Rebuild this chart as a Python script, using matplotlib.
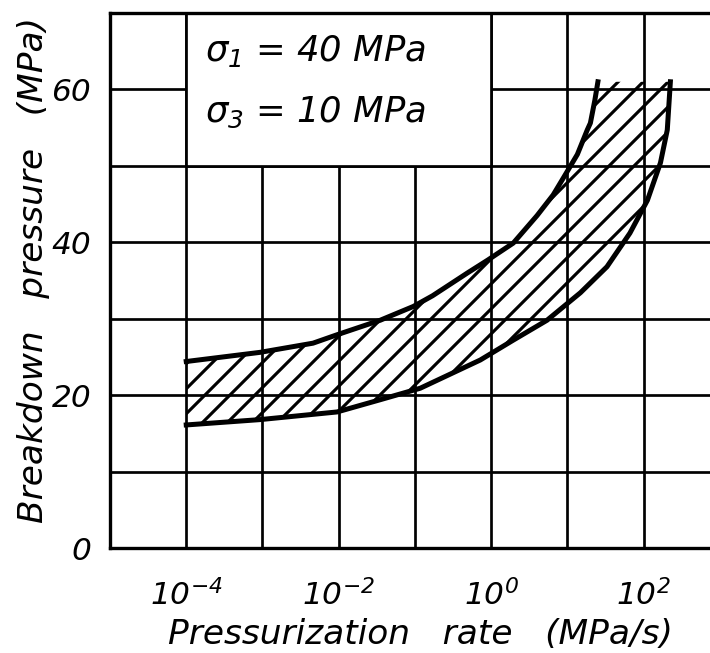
import matplotlib
matplotlib.use("Agg")
import matplotlib.pyplot as plt
from matplotlib.patches import Rectangle
from matplotlib.ticker import FixedLocator, FixedFormatter

# ---------------- data ----------------
upper_rate = [1e-4, 9.3e-4, 4.6e-3, 9.5e-3, 0.035, 0.095, 0.17, 0.49, 0.91, 1.95,
              4.0, 6.5, 8.7, 13.5, 18.2, 20.0, 22.9, 25.1]
upper_pressure = [24.4, 25.6, 26.8, 27.9, 29.8, 31.6, 33.0, 36.0, 37.7, 39.9,
                  43.5, 46.2, 48.3, 51.5, 54.7, 55.6, 58.6, 61.0]

lower_rate = [1e-4, 9.3e-4, 9.5e-3, 0.035, 0.117, 0.72, 1.95, 5.4, 14.8, 33.0,
              66.0, 112.0, 166.0, 204.0, 224.0]
lower_pressure = [16.1, 16.8, 17.8, 19.4, 20.9, 24.6, 27.2, 29.8, 33.4, 36.8,
                  41.2, 45.5, 50.4, 54.7, 61.0]

x_grid = [1e-5, 1e-4, 1e-3, 1e-2, 1e-1, 1e0, 1e1, 1e2]
x_labels = ["", r"$10^{-4}$", "", r"$10^{-2}$", "", r"$10^{0}$", "", r"$10^{2}$"]
y_grid = [0, 10, 20, 30, 40, 50, 60, 70]
y_labels = ["0", "", "20", "", "40", "", "60", ""]

box_lines = [r"$\sigma_1$ = 40 MPa", r"$\sigma_3$ = 10 MPa"]
x_title = "Pressurization   rate   (MPa/s)"
y_title = "Breakdown   pressure   (MPa)"

# ---------------- style ----------------
plt.rcParams["font.family"] = ["DejaVu Sans"]
plt.rcParams["font.style"] = "italic"
plt.rcParams["mathtext.fontset"] = "custom"
plt.rcParams["mathtext.rm"] = "DejaVu Sans:italic"
plt.rcParams["mathtext.it"] = "DejaVu Sans:italic"
plt.rcParams["mathtext.sf"] = "DejaVu Sans:italic"
plt.rcParams["hatch.linewidth"] = 1.5

DPI = 150
fig = plt.figure(figsize=(710 / DPI, 653 / DPI), dpi=DPI)
ax = fig.add_axes([110 / 710, 1 - 548 / 653, 600 / 710, (548 - 13) / 653])

ax.set_xscale("log")
ax.set_xlim(1e-5, 10 ** 2.87)
ax.set_ylim(0, 70.0)

ax.xaxis.set_major_locator(FixedLocator(x_grid))
ax.xaxis.set_major_formatter(FixedFormatter(x_labels))
ax.xaxis.set_minor_locator(FixedLocator([]))
ax.yaxis.set_major_locator(FixedLocator(y_grid))
ax.yaxis.set_major_formatter(FixedFormatter(y_labels))

ax.tick_params(axis="both", length=0, labelsize=15)
ax.tick_params(axis="y", pad=9)
ax.tick_params(axis="x", pad=15)

ax.set_axisbelow(True)
ax.grid(True, color="black", linewidth=1.3)

for side in ["left", "bottom", "top"]:
    ax.spines[side].set_linewidth(1.6)
ax.spines["right"].set_visible(False)

# hatched band
poly_x = upper_rate + lower_rate[::-1]
poly_y = upper_pressure + lower_pressure[::-1]
ax.fill(poly_x, poly_y, facecolor="none", edgecolor="black", linewidth=0,
        hatch="//", zorder=3)

ax.plot(upper_rate, upper_pressure, color="black", linewidth=2.4, zorder=4,
        solid_joinstyle="round")
ax.plot(lower_rate, lower_pressure, color="black", linewidth=2.4, zorder=4,
        solid_joinstyle="round")

# blank box with parameters
ax.add_patch(Rectangle((1e-4, 50), 1e0 - 1e-4, 21, facecolor="white",
                       edgecolor="black", linewidth=1.3, zorder=2,
                       clip_on=True))
ax.text(10 ** -3.75, 65.0, box_lines[0], fontsize=17, va="center", ha="left",
        zorder=5)
ax.text(10 ** -3.75, 57.0, box_lines[1], fontsize=17, va="center", ha="left",
        zorder=5)

ax.set_xlabel(x_title, fontsize=16.5)
ax.set_ylabel(y_title, fontsize=16.5)
ax.xaxis.set_label_coords(0.517, -0.13)
ax.yaxis.set_label_coords(-0.10, 0.52)

fig.savefig("out.png", dpi=DPI)
